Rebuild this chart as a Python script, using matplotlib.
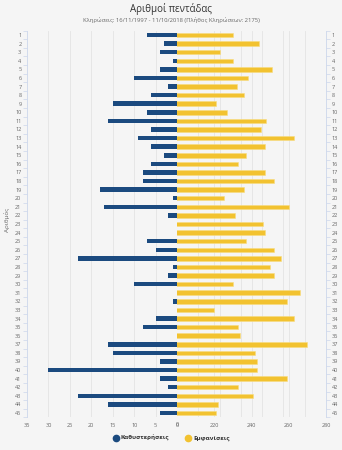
import matplotlib
matplotlib.use("Agg")
import matplotlib.pyplot as plt
from matplotlib.lines import Line2D
import numpy as np

plt.rcParams['font.family'] = ['Open Sans', 'DejaVu Sans']

numbers = list(range(1, 46))
delays = [7, 3, 4, 1, 4, 10, 2, 6, 15, 7,
          16, 6, 9, 6, 3, 6, 8, 8, 18, 1,
          17, 2, 0, 0, 7, 5, 23, 1, 2, 10,
          0, 1, 0, 5, 8, 0, 16, 15, 4, 30,
          4, 2, 23, 16, 4]
appearances = [230, 244, 223, 230, 251, 238, 232, 236, 221, 227,
               248, 245, 263, 247, 237, 233, 247, 252, 236, 225,
               260, 231, 246, 247, 237, 252, 256, 250, 252, 230,
               266, 259, 220, 263, 233, 234, 270, 242, 243, 243,
               259, 233, 241, 222, 221]
left_ticks = [35, 30, 25, 20, 15, 10, 5, 0]
right_ticks = [220, 240, 260, 280]

title = "Αριθμοί πεντάδας"
subtitle = "Κληρώσεις: 16/11/1997 - 11/10/2018 (Πλήθος Κληρώσεων: 2175)"
series_names = ["Καθυστερήσεις", "Εμφανίσεις"]

BLUE = '#1b4a7f'
YELLOW = '#f2c230'
BG = '#f5f5f5'
GRID = '#e4e4e4'
AXC = '#ccd6eb'
TXT = '#666666'

W, H = 342, 450
fig = plt.figure(figsize=(W / 100, H / 100), dpi=100, facecolor=BG)

top = 1 - 30.7 / H
bot = 1 - 417.3 / H
axL = fig.add_axes([27 / W, bot, 150 / W, top - bot], facecolor=BG)
axR = fig.add_axes([177 / W, bot, 149 / W, top - bot], facecolor=BG)

ypos = np.arange(len(numbers))
bh = 0.52

axL.barh(ypos, delays, height=bh, color=BLUE, zorder=3, linewidth=0)
axL.set_xlim(35, 0)
axR.barh(ypos, appearances, height=bh, left=0, color=YELLOW,
         edgecolor='#f8dc80', linewidth=0.4, zorder=3)
axR.set_xlim(200, 280)

for ax in (axL, axR):
    ax.set_ylim(len(numbers) - 0.5, -0.5)
    for s in ('top', 'bottom'):
        ax.spines[s].set_visible(False)
    ax.set_yticks(ypos)
    ax.set_yticks(np.arange(len(numbers) + 1) - 0.5, minor=True)
    ax.tick_params(axis='x', length=0, labelsize=4, labelcolor=TXT, pad=4)

# left axis
axL.spines['right'].set_visible(False)
axL.spines['left'].set_color(AXC)
axL.spines['left'].set_linewidth(0.6)
axL.set_yticklabels([str(n) for n in numbers], fontsize=4, color=TXT)
axL.tick_params(axis='y', which='major', length=0, pad=4)
axL.tick_params(axis='y', which='minor', length=3, color=AXC, width=0.5, direction='out')
axL.set_xticks(left_ticks)
axL.set_xticklabels([str(t) for t in left_ticks])
for t in left_ticks[1:-1]:
    axL.axvline(t, color=GRID, lw=0.6, zorder=1)

# right axis
axR.spines['left'].set_visible(False)
axR.spines['right'].set_color(AXC)
axR.spines['right'].set_linewidth(0.6)
axR.yaxis.tick_right()
axR.set_yticks(ypos)
axR.set_yticks(np.arange(len(numbers) + 1) - 0.5, minor=True)
axR.set_yticklabels([str(n) for n in numbers], fontsize=4, color=TXT)
axR.tick_params(axis='y', which='major', length=0, pad=4, left=False, right=False)
axR.tick_params(axis='y', which='minor', length=3, color=AXC, width=0.5,
                direction='out', left=False, right=True)
axR.set_xticks(right_ticks)
axR.set_xticklabels([str(t) for t in right_ticks])
for t in right_ticks[:-1]:
    axR.axvline(t, color=GRID, lw=0.6, zorder=1)
for k in range(1, 7):
    axR.axvline(200 + k * 80 / 7, color=GRID, lw=0.6, zorder=1)

fig.text(177 / W, 1 - 425 / H, "0", ha='center', va='center', fontsize=4, color=TXT)

fig.text(171 / W, 1 - 9 / H, title, ha='center', va='center', fontsize=7, color='#333333')
fig.text(171 / W, 1 - 20 / H, subtitle, ha='center', va='center', fontsize=4.2, color=TXT)
fig.text(7 / W, 1 - 220 / H, "Αριθμός", ha='center', va='center', rotation=90,
         fontsize=4.5, color=TXT)

handles = [Line2D([], [], marker='o', linestyle='none', markersize=4.5,
                  markerfacecolor=BLUE, markeredgecolor=BLUE),
           Line2D([], [], marker='o', linestyle='none', markersize=4.5,
                  markerfacecolor=YELLOW, markeredgecolor=YELLOW)]
fig.legend(handles, series_names, loc='center', bbox_to_anchor=(171 / W, 1 - 438 / H),
           ncol=2, frameon=False, prop={'size': 4.5, 'weight': 'bold'},
           labelcolor='#333333', handletextpad=0.3, columnspacing=2.5, handlelength=1)

fig.savefig('out.png', dpi=100, facecolor=BG)
